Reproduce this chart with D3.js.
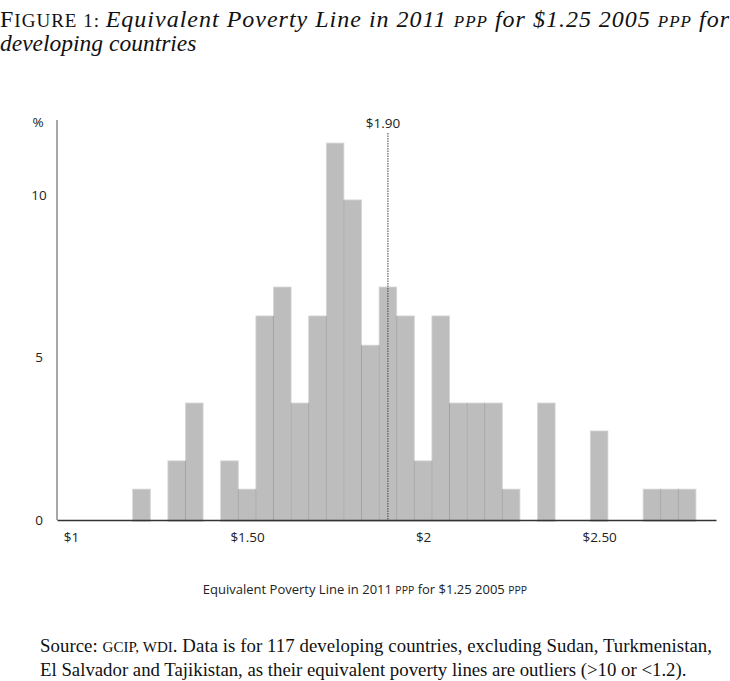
<!DOCTYPE html>
<html>
<head>
<meta charset="utf-8">
<script src="https://cdn.jsdelivr.net/npm/d3@7"></script>
<style>
  html, body { margin: 0; padding: 0; background: #fff; }
  svg { display: block; }
</style>
</head>
<body>
<svg id="chart" width="730" height="681"></svg>
<script>
// Bin centres (poverty line, 2011 PPP $) and share of countries (%) per bin
const binCenters = [1.20, 1.30, 1.35, 1.45, 1.50, 1.55, 1.60, 1.65, 1.70, 1.75, 1.80, 1.85, 1.90, 1.95, 2.00, 2.05, 2.10, 2.15, 2.20, 2.25, 2.35, 2.50, 2.65, 2.70, 2.75];
const sharePct   = [0.95, 1.82, 3.60, 1.82, 0.95, 6.28, 7.17, 3.60, 6.28, 11.60, 9.85, 5.38, 7.17, 6.28, 1.82, 6.28, 3.60, 3.60, 3.60, 0.95, 3.60, 2.74, 0.95, 0.95, 0.95];
const binWidth = 0.05;
const xTickValues = [1, 1.5, 2, 2.5];
const xTickLabels = ["$1", "$1.50", "$2", "$2.50"];
const yTickValues = [0, 5, 10];
const yTickLabels = ["0", "5", "10"];
const markerValue = 1.90;
const markerLabel = "$1.90";

const svg = d3.select("#chart");

const x = d3.scaleLinear().domain([0.96, 2.832]).range([57, 716]);
const y = d3.scaleLinear().domain([0, 12.31]).range([520, 120]);

const sans = "'Open Sans', 'Noto Sans', sans-serif";
const serif = "'Liberation Serif', 'DejaVu Serif', serif";

// Title
const TS = 24, SC = 19;
const t1 = svg.append("text")
  .attr("x", 0).attr("y", 27)
  .attr("font-family", serif).attr("font-size", TS).attr("fill", "#111")
  .attr("textLength", 729).attr("lengthAdjust", "spacing");
t1.append("tspan").text("F");
t1.append("tspan").attr("font-size", SC).text("IGURE 1: ");
t1.append("tspan").attr("font-style", "italic").text("Equivalent Poverty Line in 2011 ");
t1.append("tspan").attr("font-style", "italic").attr("font-size", 17).text("PPP");
t1.append("tspan").attr("font-style", "italic").text(" for $1.25 2005 ");
t1.append("tspan").attr("font-style", "italic").attr("font-size", 17).text("PPP");
t1.append("tspan").attr("font-style", "italic").text(" for");

svg.append("text")
  .attr("x", 0).attr("y", 51)
  .attr("font-family", serif).attr("font-size", 23.5).attr("font-style", "italic").attr("fill", "#111")
  .text("developing countries");

// Bars
const bars = svg.append("g");
binCenters.forEach((c, i) => {
  bars.append("rect")
    .attr("x", x(c - binWidth / 2))
    .attr("y", y(sharePct[i]))
    .attr("width", x(c + binWidth / 2) - x(c - binWidth / 2))
    .attr("height", y(0) - y(sharePct[i]) + 1.5)
    .attr("fill", "#bdbdbd")
    .attr("stroke", "#d6d6d6")
    .attr("stroke-width", 0.8);
});
// darker separators between adjacent bars
binCenters.forEach((c, i) => {
  if (i > 0 && Math.abs(binCenters[i - 1] - (c - binWidth)) < 1e-6) {
    const h = Math.min(sharePct[i], sharePct[i - 1]);
    bars.append("line")
      .attr("x1", x(c - binWidth / 2)).attr("x2", x(c - binWidth / 2))
      .attr("y1", y(h)).attr("y2", y(0))
      .attr("stroke", "#a3a3a3").attr("stroke-width", 1);
  }
});

// Y axis
svg.append("line")
  .attr("x1", 57).attr("x2", 57).attr("y1", y.range()[1]).attr("y2", y(0))
  .attr("stroke", "#8a8a8a").attr("stroke-width", 1.5);
const yAxis = d3.axisLeft(y).tickValues(yTickValues).tickSize(0)
  .tickFormat((d, i) => yTickLabels[i]);
const yg = svg.append("g").attr("transform", "translate(57,0)").call(yAxis);
yg.select(".domain").remove();
yg.selectAll("text")
  .attr("x", -18).attr("text-anchor", "middle")
  .attr("font-family", sans).attr("font-size", 13.5).attr("fill", "#222");
svg.append("text")
  .attr("x", 38).attr("y", 122).attr("dy", "0.35em").attr("text-anchor", "middle")
  .attr("font-family", sans).attr("font-size", 13.5).attr("fill", "#222")
  .text("%");

// X axis
const xAxis = d3.axisBottom(x).tickValues(xTickValues).tickSize(0)
  .tickFormat((d, i) => xTickLabels[i]);
const xg = svg.append("g").attr("transform", `translate(0,${y(0)})`).call(xAxis);
xg.select(".domain").attr("stroke", "#333").attr("stroke-width", 1.3);
xg.selectAll("text")
  .attr("y", 12)
  .attr("font-family", sans).attr("font-size", 13.5).attr("fill", "#222");

// Marker line at $1.90
svg.append("line")
  .attr("x1", x(markerValue)).attr("x2", x(markerValue))
  .attr("y1", 133).attr("y2", y(0))
  .attr("stroke", "#444").attr("stroke-width", 1).attr("stroke-dasharray", "1.5,1");
svg.append("text")
  .attr("x", x(markerValue) - 5).attr("y", 123).attr("dy", "0.35em").attr("text-anchor", "middle")
  .attr("font-family", sans).attr("font-size", 13.5).attr("fill", "#222")
  .text(markerLabel);

// X axis title
const xt = svg.append("text")
  .attr("x", 365).attr("y", 589).attr("dy", "0.35em").attr("text-anchor", "middle")
  .attr("font-family", sans).attr("font-size", 13).attr("fill", "#222");
xt.append("tspan").text("Equivalent Poverty Line in 2011 ");
xt.append("tspan").attr("font-size", 10.5).text("PPP");
xt.append("tspan").text(" for $1.25 2005 ");
xt.append("tspan").attr("font-size", 10.5).text("PPP");

// Source note
const s1 = svg.append("text")
  .attr("x", 40).attr("y", 652)
  .attr("font-family", serif).attr("font-size", 18.8).attr("fill", "#111")
  .attr("textLength", 672).attr("lengthAdjust", "spacing");
s1.append("tspan").text("Source: ");
s1.append("tspan").attr("font-size", 15).text("GCIP, WDI");
s1.append("tspan").text(". Data is for 117 developing countries, excluding Sudan, Turkmenistan,");
svg.append("text")
  .attr("x", 40).attr("y", 676)
  .attr("font-family", serif).attr("font-size", 18.8).attr("fill", "#111")
  .text("El Salvador and Tajikistan, as their equivalent poverty lines are outliers (>10 or <1.2).");
</script>
</body>
</html>
